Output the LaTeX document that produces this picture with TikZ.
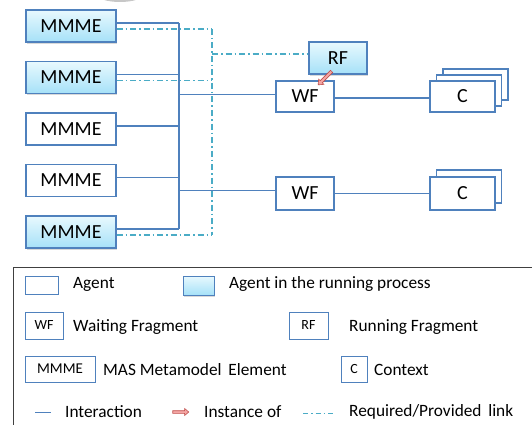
\documentclass[tikz,border=0pt]{standalone}
\usepackage{fontspec}
\setmainfont{Carlito}
\usetikzlibrary{shadows,shapes.arrows,calc}

\definecolor{linkblue}{HTML}{4F81BD}
\definecolor{reqaqua}{HTML}{4BACC6}
\definecolor{agenttop}{HTML}{E8F9FE}
\definecolor{agentbot}{HTML}{A6E1F8}
\definecolor{instfill}{HTML}{F4A6A4}
\definecolor{instdraw}{HTML}{C0504D}
\definecolor{legendline}{HTML}{404040}

\tikzset{
  elem/.style={draw=linkblue, line width=1.3pt, fill=white, inner sep=0pt,
    font=\fontsize{20}{22}\selectfont},
  running/.style={elem, top color=agenttop, bottom color=agentbot,
    drop shadow={opacity=0.3, shadow xshift=1.2pt, shadow yshift=-1.8pt}},
  mmme/.style={minimum width=90pt, minimum height=32pt},
  frag/.style={minimum width=58pt, minimum height=32pt},
  ctx/.style={minimum width=65pt, minimum height=32pt},
  interact/.style={draw=linkblue, line width=1.2pt},
  reqlink/.style={draw=reqaqua, line width=1.2pt,
    dash pattern=on 6pt off 3pt on 1.5pt off 3pt},
  instarrow/.style={single arrow, draw=instdraw, fill=instfill, line width=0.6pt,
    inner sep=1.2pt, single arrow head extend=2.2pt, single arrow tip angle=80},
  legbox/.style={draw=linkblue, line width=1pt, fill=white, inner sep=0pt,
    font=\fontsize{14}{16}\selectfont},
  legtext/.style={anchor=west, inner sep=0pt, font=\fontsize{17.3}{19}\selectfont}
}

\begin{document}
\begin{tikzpicture}[x=1pt, y=-1pt]
  \useasboundingbox (0,0) rectangle (532,425);

  % soft grey shape peeking in at the top edge
  \fill[black!22] (120,-6) ellipse [x radius=24pt, y radius=8pt];

  % MAS metamodel elements
  \node[running, mmme] (m1) at (71,26) {MMME};
  \node[running, mmme] (m2) at (71,77.5) {MMME};
  \node[elem, mmme]    (m3) at (71,129) {MMME};
  \node[elem, mmme]    (m4) at (71,180.5) {MMME};
  \node[running, mmme] (m5) at (71,232) {MMME};

  % fragments
  \node[running, frag] (rf)  at (338,58) {RF};
  \node[elem, frag, minimum height=31pt] (wf1) at (305,96.5) {WF};
  \node[elem, frag, minimum height=33pt] (wf2) at (305,193.5) {WF};

  % stacked contexts
  \node[elem, ctx, minimum height=31pt] (c1c) at (475.5,84.5) {};
  \node[elem, ctx, minimum height=31pt] (c1b) at (469,90.5) {};
  \node[elem, ctx, minimum height=31pt] (c1)  at (462.5,96.5) {C};
  \node[elem, ctx, minimum height=33pt] (c2b) at (469,186.5) {};
  \node[elem, ctx, minimum height=33pt] (c2)  at (462.5,193.5) {C};

  % port points on the element boxes: interaction above, links below centre
  \foreach \m in {m1,m2,m3,m4,m5} {
    \coordinate (\m-i) at ([yshift=3pt]\m.east);
    \coordinate (\m-r) at ([yshift=-3pt]\m.east);
  }
  \coordinate (wf1-i) at ([yshift=2pt]wf1.west);
  \coordinate (wf2-i) at ([yshift=3pt]wf2.west);
  \coordinate (rf-r)  at ([yshift=4pt]rf.west);

  % interaction bus
  \coordinate (bx) at (179,0);
  \foreach \m in {m1,m2,m3,m4,m5}
    \draw[interact] (\m-i) -- (bx |- \m-i);
  \draw[interact] (bx |- m1-i) -- (bx |- m5-i);
  \draw[interact] (bx |- wf1-i) -- (wf1-i);
  \draw[interact] (bx |- wf2-i) -- (wf2-i);
  \draw[interact] ([yshift=-1.5pt]wf1.east) -- ([yshift=-1.5pt]c1.west);
  \draw[interact] (wf2.east) -- (c2.west);

  % required / provided links
  \coordinate (dx) at (212,0);
  \foreach \m in {m1,m2,m5}
    \draw[reqlink] (\m-r) -- (dx |- \m-r);
  \draw[reqlink] (dx |- m1-r) -- (dx |- m5-r);
  \draw[reqlink] (dx |- rf-r) -- (rf-r);

  % instance-of arrow from the running to the waiting fragment
  \node[instarrow, minimum height=19pt, rotate=225] (inst) at (325.5,77.5) {};

  % legend frame
  \draw[legendline, line width=1pt] (532,267.5) -- (13.5,267.5) -- (13.5,425);

  \node[legbox, minimum width=33pt, minimum height=18pt] (lag) at (41.5,285) {};
  \node[legtext] (tag) at (73,284) {Agent};
  \node[legbox, top color=agenttop, bottom color=agentbot,
    drop shadow={opacity=0.3, shadow xshift=1pt, shadow yshift=-1.5pt},
    minimum width=31pt, minimum height=19pt] (lrun) at (198.5,285.5) {};
  \node[legtext] (trun) at (229,284) {Agent in the running process};

  \node[legbox, minimum width=38pt, minimum height=27pt] (lwf) at (44,325.5) {WF};
  \node[legtext] (twf) at (73,327) {Waiting Fragment};
  \node[legbox, minimum width=39pt, minimum height=27pt] (lrf) at (308.5,325.5) {RF};
  \node[legtext] (trf) at (349,327) {Running Fragment};

  \node[legbox, minimum width=70pt, minimum height=26pt,
    font=\fontsize{15}{17}\selectfont] (lmm) at (60,369) {MMME};
  \node[legtext] (tmm) at (103,370) {MAS Metamodel\ \,Element};
  \node[legbox, minimum width=26pt, minimum height=26pt] (lc) at (354,369) {C};
  \node[legtext] (tc) at (374,370) {Context};

  \coordinate (li1) at (35,412);
  \coordinate (li2) at (50.5,412);
  \draw[interact, line width=1pt] (li1) -- (li2);
  \node[legtext] (tli) at (65,412) {Interaction};
  \node[instarrow, minimum height=16pt, inner sep=1pt] (lin) at (180,412) {};
  \node[legtext] (tin) at (204,412) {Instance of};
  \coordinate (lr1) at (303,413);
  \coordinate (lr2) at (336,413);
  \draw[reqlink, line width=1pt, dash pattern=on 5pt off 3pt on 1.5pt off 3pt] (lr1) -- (lr2);
  \node[legtext] (trq) at (349,412) {Required/Provided\ \,link};
\end{tikzpicture}
\end{document}
